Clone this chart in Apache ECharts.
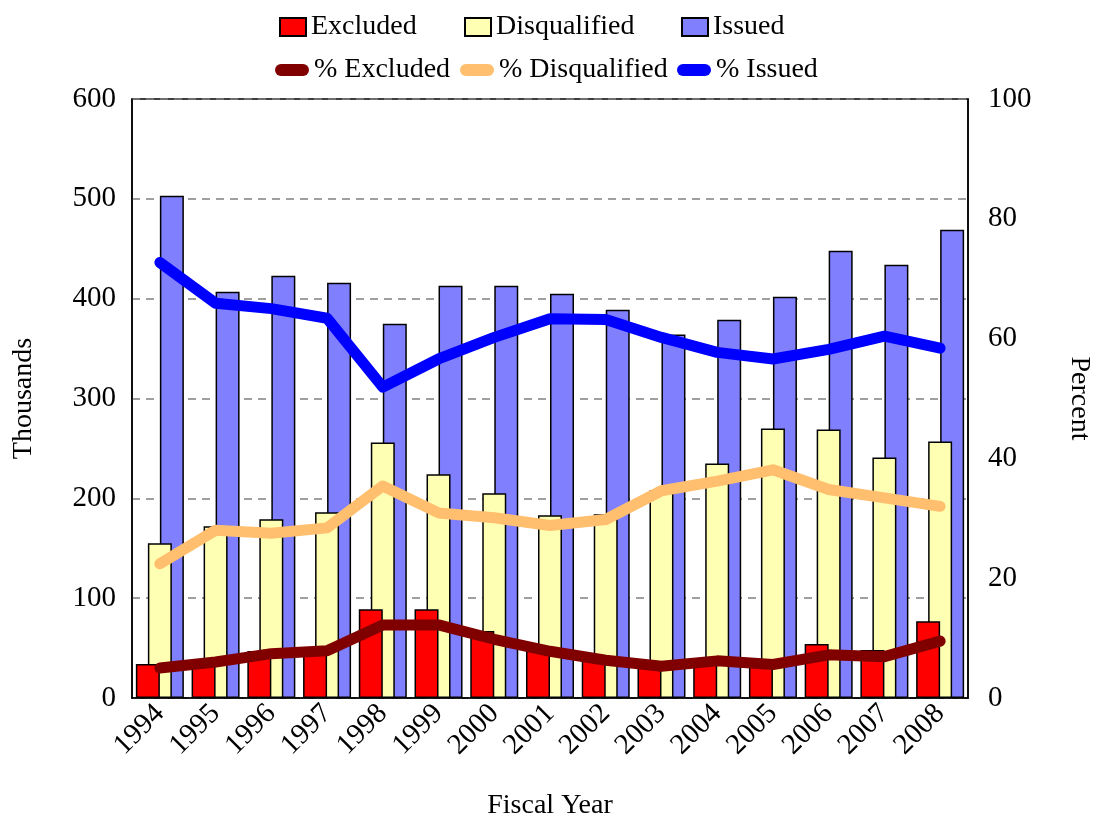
<!DOCTYPE html>
<html>
<head>
<meta charset="utf-8">
<title>Fiscal Year chart</title>
<script src="https://cdn.jsdelivr.net/npm/echarts@6/dist/echarts.min.js"></script>
<style>
  html, body { margin: 0; padding: 0; background: #fff; }
  #chart { width: 1094px; height: 814px; }
</style>
</head>
<body>
<div id="chart"></div>
<script>
// data (thousands / percent)
const years = ["1994", "1995", "1996", "1997", "1998", "1999", "2000", "2001",
  "2002", "2003", "2004", "2005", "2006", "2007", "2008"];
const excluded = [34, 37, 47, 51, 89, 89, 67, 48, 38, 32, 40, 38, 54, 48, 77];
const disqualified = [155, 172, 179, 186, 256, 224, 205, 183, 184, 208, 235, 270, 269, 241, 257];
const issued = [503, 407, 423, 416, 375, 413, 413, 405, 389, 364, 379, 402, 448, 434, 469];
const pctExcluded = [5.0, 6.0, 7.4, 7.9, 12.2, 12.2, 9.8, 7.8, 6.3, 5.3, 6.2, 5.6, 7.2, 6.9, 9.5];
const pctDisqualified = [22.4, 28.0, 27.5, 28.4, 35.4, 30.9, 30.1, 28.8, 29.8, 34.6, 36.2, 38.1, 34.8, 33.4, 32.0];
const pctIssued = [72.7, 65.9, 65.0, 63.4, 51.9, 56.6, 60.2, 63.3, 63.2, 60.2, 57.7, 56.6, 58.2, 60.4, 58.4];
const leftTicks = { min: 0, max: 600, interval: 100 };
const rightTicks = { min: 0, max: 100, interval: 20 };

const font = "'Liberation Serif', 'Times New Roman', serif";
const textStyle = { color: "#000", fontFamily: font, fontSize: 28 };
const labelStyle = { color: "#000", fontFamily: font, fontSize: 29 };
// pill shaped icon for the line legends
const pill = "path://M6,0 H28 A6,6 0 0 1 28,12 H6 A6,6 0 0 1 6,0 Z";

const chart = echarts.init(document.getElementById("chart"));

function barLegend(name, left) {
  return {
    data: [name], left: left, top: 13, padding: 0,
    icon: "rect", itemWidth: 26, itemHeight: 18,
    textStyle: textStyle,
  };
}
function lineLegend(name, left) {
  return {
    data: [name], left: left, top: 56, padding: 0,
    icon: pill, itemWidth: 34, itemHeight: 12,
    textStyle: textStyle,
  };
}

function barSeries(name, data, color, z) {
  return {
    name: name, type: "bar", yAxisIndex: 0, data: data,
    barWidth: 24, barGap: "-50%", z: z,
    itemStyle: { color: color, borderColor: "#000", borderWidth: 1.5 },
  };
}
function lineSeries(name, data, color) {
  return {
    name: name, type: "line", yAxisIndex: 1, data: data,
    symbol: "none", z: 10,
    itemStyle: { color: color },
    lineStyle: { color: color, width: 11, cap: "round", join: "round" },
  };
}

const option = {
  animation: false,
  backgroundColor: "#fff",
  textStyle: textStyle,
  legend: [
    barLegend("Excluded", 279),
    barLegend("Disqualified", 464),
    barLegend("Issued", 681),
    lineLegend("% Excluded", 275),
    lineLegend("% Disqualified", 460),
    lineLegend("% Issued", 677),
  ],
  grid: {
    left: 132, right: 126, top: 99, bottom: 116,
    outerBoundsMode: "none",
    show: true, borderColor: "#000", borderWidth: 1.5,
  },
  xAxis: {
    type: "category",
    data: years,
    name: "Fiscal Year",
    nameLocation: "middle",
    nameGap: 94,
    nameTextStyle: textStyle,
    axisLine: { lineStyle: { color: "#000", width: 1.5 } },
    axisTick: { show: false },
    axisLabel: Object.assign({ interval: 0, rotate: 45, margin: 11 }, labelStyle),
  },
  yAxis: [
    {
      type: "value",
      min: leftTicks.min, max: leftTicks.max, interval: leftTicks.interval,
      name: "Thousands",
      nameLocation: "middle",
      nameGap: 94,
      nameTextStyle: textStyle,
      axisLine: { show: true, lineStyle: { color: "#000", width: 1.5 } },
      axisTick: { show: false },
      axisLabel: Object.assign({ margin: 16 }, labelStyle),
      splitLine: { lineStyle: { color: "#808080", width: 1.5, type: [8, 6] } },
    },
    {
      type: "value",
      position: "right",
      min: rightTicks.min, max: rightTicks.max, interval: rightTicks.interval,
      name: "Percent",
      nameLocation: "middle",
      nameRotate: -90,
      nameGap: 97,
      nameTextStyle: textStyle,
      axisLine: { show: true, lineStyle: { color: "#000", width: 1.5 } },
      axisTick: { show: false },
      axisLabel: Object.assign({ margin: 20 }, labelStyle),
      splitLine: { show: false },
    },
  ],
  series: [
    barSeries("Excluded", excluded, "#ff0000", 4),
    barSeries("Disqualified", disqualified, "#ffffb4", 3),
    barSeries("Issued", issued, "#8080ff", 2),
    lineSeries("% Excluded", pctExcluded, "#800000"),
    lineSeries("% Disqualified", pctDisqualified, "#ffbf6e"),
    lineSeries("% Issued", pctIssued, "#0000ff"),
  ],
};
chart.setOption(option);
</script>
</body>
</html>
